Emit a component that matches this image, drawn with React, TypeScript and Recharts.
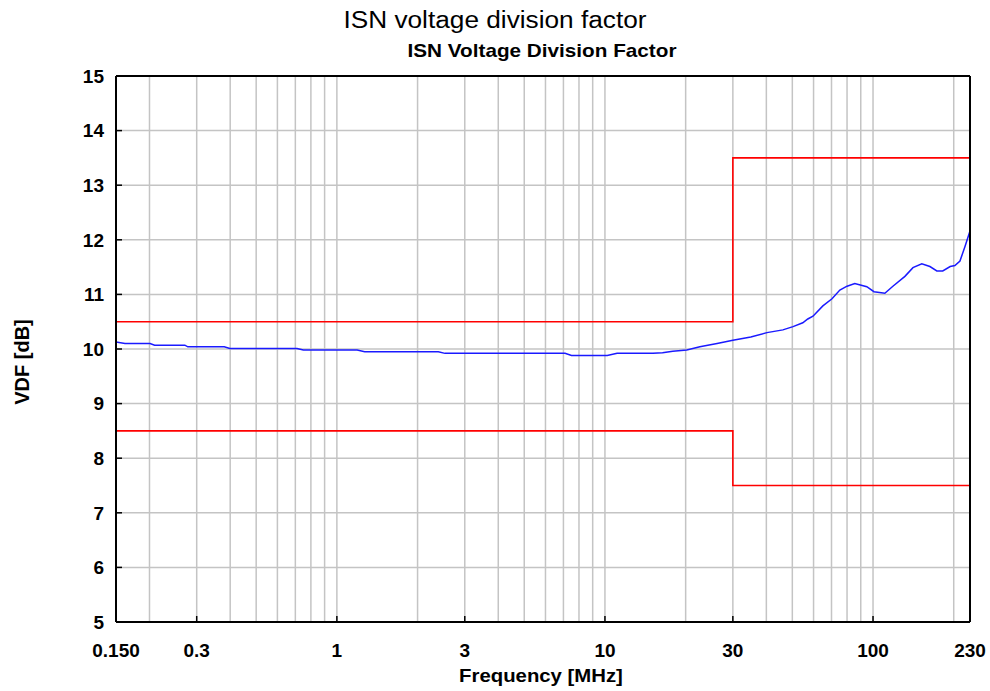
import { LineChart, Line, XAxis, YAxis, ReferenceLine } from "recharts";

// measured VDF curve
const freqMHz = [
  0.15, 0.162, 0.201, 0.209, 0.271, 0.278, 0.38, 0.399, 0.71, 0.75, 1.19, 1.27, 2.39, 2.53,
  7.1, 7.5, 10.2, 11.1, 15.1, 16.4, 17.9, 20.2, 22.6, 26.2, 30, 35, 40.2, 46.1, 50.3, 54.7,
  57.1, 59.7, 65, 70.3, 75.2, 80, 85.5, 94.8, 100.8, 110.7, 118.6, 131.5, 140.9, 152, 163,
  173, 182, 194, 202, 211, 220, 230,
];
const vdfDb = [
  10.13, 10.1, 10.1, 10.07, 10.07, 10.04, 10.04, 10.01, 10.01, 9.98, 9.98, 9.95, 9.95, 9.92,
  9.92, 9.88, 9.88, 9.92, 9.92, 9.93, 9.96, 9.98, 10.04, 10.1, 10.16, 10.22, 10.3, 10.35,
  10.41, 10.48, 10.55, 10.6, 10.79, 10.92, 11.08, 11.15, 11.2, 11.14, 11.05, 11.02, 11.15,
  11.33, 11.49, 11.56, 11.51, 11.43, 11.43, 11.51, 11.53, 11.61, 11.87, 12.16,
];

// tolerance limits (step at 30 MHz)
const limitFreq = [0.15, 30, 230];
const upperLimit = [10.5, 13.5, 13.5];
const lowerLimit = [8.5, 7.5, 7.5];

const xTicks = [0.15, 0.3, 1, 3, 10, 30, 100, 230];
const yTicks = [5, 6, 7, 8, 9, 10, 11, 12, 13, 14, 15];
const xGrid = [
  0.2, 0.3, 0.4, 0.5, 0.6, 0.7, 0.8, 0.9, 1, 2, 3, 4, 5, 6, 7, 8, 9, 10, 20, 30, 40, 50, 60,
  70, 80, 90, 100, 200,
];
const yGrid = [6, 7, 8, 9, 10, 11, 12, 13, 14];

const curve = freqMHz.map((f, i) => ({ f, v: vdfDb[i] }));
const upper = limitFreq.map((f, i) => ({ f, v: upperLimit[i] }));
const lower = limitFreq.map((f, i) => ({ f, v: lowerLimit[i] }));

const font = "'Liberation Sans', Arial, sans-serif";
const tickStyle = { fill: "#000", fontSize: 19, fontWeight: "bold", fontFamily: font };

const App = () => (
  <div style={{ position: "absolute", left: 0, top: 0, width: 990, height: 691, background: "#fff", fontFamily: font }}>
    <div style={{ position: "absolute", left: 495, top: 9, fontSize: 23, lineHeight: 1, whiteSpace: "nowrap", transform: "translateX(-50%) scaleX(1.14)" }}>
      ISN voltage division factor
    </div>
    <div style={{ position: "absolute", left: 542, top: 41, fontSize: 19, fontWeight: "bold", lineHeight: 1, whiteSpace: "nowrap", transform: "translateX(-50%) scaleX(1.09)" }}>
      ISN Voltage Division Factor
    </div>
    <LineChart width={990} height={691} margin={{ top: 76, right: 0, bottom: 0, left: 0 }}>
      <XAxis
        dataKey="f"
        type="number"
        scale="log"
        domain={[0.15, 230]}
        allowDataOverflow
        ticks={xTicks}
        tickFormatter={(v: number) => (v === 0.15 ? "0.150" : String(v))}
        height={69}
        axisLine={false}
        tickSize={-6}
        tickMargin={28}
        tickLine={{ stroke: "#000", strokeWidth: 1.5 }}
        tick={tickStyle}
        interval={0}
      />
      <YAxis
        type="number"
        domain={[5, 15]}
        ticks={yTicks}
        width={116}
        axisLine={false}
        tickSize={-6}
        tickMargin={18}
        tickLine={{ stroke: "#000", strokeWidth: 1.5 }}
        tick={tickStyle}
        interval={0}
      />
      <YAxis
        yAxisId="r"
        orientation="right"
        type="number"
        domain={[5, 15]}
        ticks={yTicks}
        width={20}
        axisLine={false}
        tickSize={-6}
        tickLine={{ stroke: "#000", strokeWidth: 1.5 }}
        tickFormatter={() => ""}
        interval={0}
      />
      {xGrid.map((g) => (
        <ReferenceLine key={"x" + g} x={g} stroke="#c4c4c4" strokeWidth={1.5} />
      ))}
      {yGrid.map((g) => (
        <ReferenceLine key={"y" + g} y={g} stroke="#c4c4c4" strokeWidth={1.5} />
      ))}
      <Line data={upper} dataKey="v" type="stepAfter" stroke="#ff0000" strokeWidth={1.6} dot={false} isAnimationActive={false} />
      <Line data={lower} dataKey="v" type="stepAfter" stroke="#ff0000" strokeWidth={1.6} dot={false} isAnimationActive={false} />
      <Line data={curve} dataKey="v" type="linear" stroke="#1a1aff" strokeWidth={1.5} dot={false} isAnimationActive={false} />
      <ReferenceLine x={0.15} stroke="#000" strokeWidth={2} />
      <ReferenceLine x={230} stroke="#000" strokeWidth={2} />
      <ReferenceLine y={5} stroke="#000" strokeWidth={2} />
      <ReferenceLine y={15} stroke="#000" strokeWidth={2} />
    </LineChart>
    <div style={{ position: "absolute", left: 541, top: 666, fontSize: 19, fontWeight: "bold", lineHeight: 1, whiteSpace: "nowrap", transform: "translateX(-50%) scaleX(1.07)" }}>
      Frequency [MHz]
    </div>
    <div style={{ position: "absolute", left: 22, top: 362, fontSize: 20, fontWeight: "bold", lineHeight: 1, whiteSpace: "nowrap", transform: "translate(-50%, -50%) rotate(-90deg)" }}>
      VDF [dB]
    </div>
  </div>
);

export default App;
